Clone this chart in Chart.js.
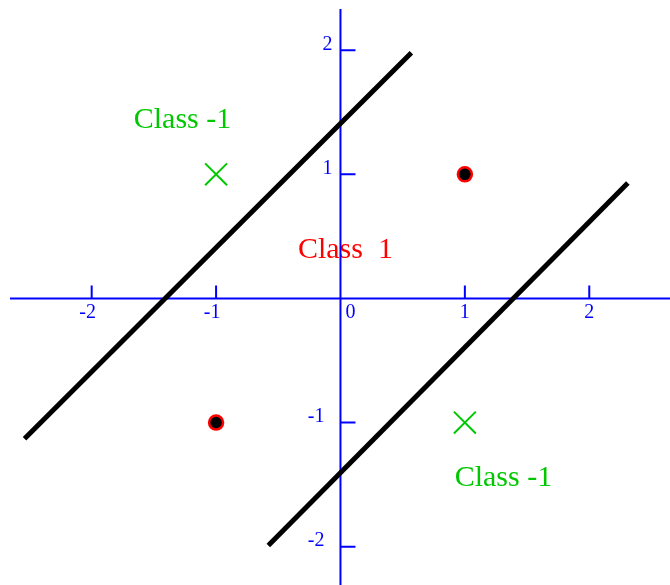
<!DOCTYPE html>
<html>
<head>
<meta charset="utf-8">
<script src="https://cdn.jsdelivr.net/npm/chart.js@4.4.0/dist/chart.umd.min.js"></script>
<style>
  body { margin: 0; background: #fff; }
</style>
</head>
<body>
<canvas id="chart" width="670" height="585"></canvas>
<script>
// points of the two classes
const classOnePoints = [[1, 1], [-1, -1]];
const classMinusPoints = [[-1, 1], [1, -1]];

// the two separating lines (end points)
const upperLine = [[-2.54, -1.13], [0.57, 1.98]];
const lowerLine = [[-0.58, -1.99], [2.31, 0.93]];

// axis ticks
const xTicks = [-2, -1, 0, 1, 2];
const yTicks = [-2, -1, 1, 2];
const xTickLabels = ['-2', '-1', '0', '1', '2'];
const yTickLabels = ['-2', '-1', '1', '2'];

// region labels, anchored in data coordinates
const regionLabels = ['Class -1', 'Class  1', 'Class -1'];
const regionX = [-1.27, 0.04, 1.31];
const regionY = [1.37, 0.33, -1.51];
const regionColors = ['#00c800', '#ff0000', '#00c800'];

const toXY = arr => arr.map(p => ({ x: p[0], y: p[1] }));

const BLUE = '#0000ff';

// draws text labels and the blue axes through the origin
const axesPlugin = {
    id: 'axesThroughOrigin',
    beforeDatasetsDraw(chart) {
        const ctx = chart.ctx;
        const xs = chart.scales.x;
        const ys = chart.scales.y;
        const x0 = xs.getPixelForValue(0);
        const y0 = ys.getPixelForValue(0);

        ctx.save();

        // region labels
        ctx.font = '30px "Liberation Serif", "Times New Roman", serif';
        ctx.textAlign = 'center';
        ctx.textBaseline = 'alphabetic';
        regionLabels.forEach((txt, i) => {
            ctx.fillStyle = regionColors[i];
            ctx.fillText(txt, xs.getPixelForValue(regionX[i]), ys.getPixelForValue(regionY[i]));
        });

        // axes lines
        ctx.strokeStyle = BLUE;
        ctx.lineWidth = 2;
        ctx.beginPath();
        ctx.moveTo(10, y0);
        ctx.lineTo(chart.width, y0);
        ctx.moveTo(x0, 9);
        ctx.lineTo(x0, chart.height);
        ctx.stroke();

        // tick marks
        ctx.beginPath();
        xTicks.forEach(v => {
            if (v === 0) return;
            const px = xs.getPixelForValue(v);
            ctx.moveTo(px, y0);
            ctx.lineTo(px, y0 - 13);
        });
        yTicks.forEach(v => {
            const py = ys.getPixelForValue(v);
            ctx.moveTo(x0, py);
            ctx.lineTo(x0 + 15, py);
        });
        ctx.stroke();

        // tick labels
        ctx.fillStyle = BLUE;
        ctx.font = '20px "Liberation Serif", "Times New Roman", serif';
        ctx.textBaseline = 'middle';
        ctx.textAlign = 'center';
        xTicks.forEach((v, i) => {
            let px = xs.getPixelForValue(v);
            if (v === 0) px += 10;
            else if (v < 0) px -= 4;
            ctx.fillText(xTickLabels[i], px, y0 + 14);
        });
        ctx.textAlign = 'right';
        yTicks.forEach((v, i) => {
            ctx.fillText(yTickLabels[i], x0 - 8 - (v < 0 ? 8 : 0), ys.getPixelForValue(v) - 6);
        });

        ctx.restore();
    }
};

const lineStyle = {
    showLine: true,
    borderColor: '#000',
    borderWidth: 5,
    borderCapStyle: 'butt',
    pointRadius: 0,
    fill: false
};

new Chart(document.getElementById('chart'), {
    type: 'scatter',
    data: {
        datasets: [
            Object.assign({ data: toXY(upperLine) }, lineStyle),
            Object.assign({ data: toXY(lowerLine) }, lineStyle),
            {
                data: toXY(classOnePoints),
                pointStyle: 'circle',
                pointRadius: 7,
                backgroundColor: '#000',
                borderColor: '#ff0000',
                borderWidth: 2.5
            },
            {
                data: toXY(classMinusPoints),
                pointStyle: 'crossRot',
                pointRadius: 15.5,
                borderColor: '#00c800',
                borderWidth: 2
            }
        ]
    },
    options: {
        responsive: false,
        animation: false,
        layout: { padding: 0, autoPadding: false },
        plugins: {
            legend: { display: false },
            tooltip: { enabled: false }
        },
        scales: {
            x: { type: 'linear', min: -2.737, max: 2.649, display: false },
            y: { type: 'linear', min: -2.309, max: 2.405, display: false }
        }
    },
    plugins: [axesPlugin]
});
</script>
</body>
</html>
